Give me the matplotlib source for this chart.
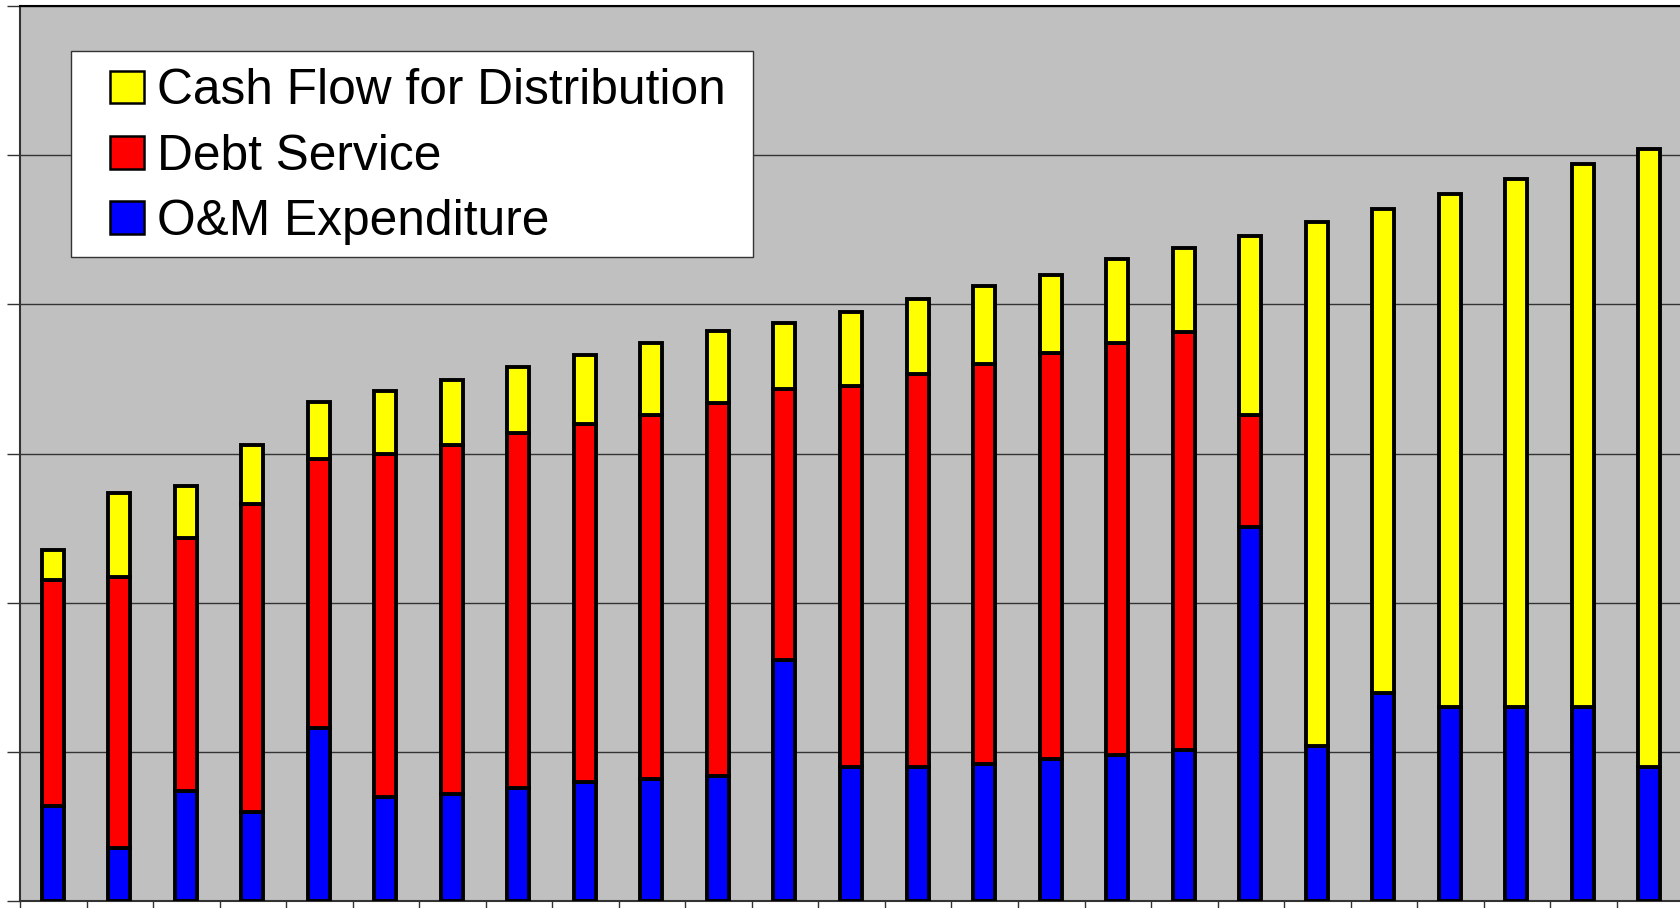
import matplotlib
matplotlib.use("Agg")
import matplotlib.pyplot as plt
from matplotlib.patches import Patch, Rectangle
import numpy as np

plt.rcParams["font.family"] = ["Liberation Sans", "DejaVu Sans"]

# Annual breakdown of project revenue (stacked): O&M, debt service, cash for distribution
years = list(range(1, 26))
om_expenditure = [12.7, 7.1, 14.7, 11.9, 23.2, 14.0, 14.3, 15.2, 16.0, 16.4, 16.7, 32.3, 17.9,
                  17.9, 18.4, 19.1, 19.6, 20.3, 50.2, 20.8, 27.9, 26.0, 26.0, 26.0, 17.9]
debt_service = [30.4, 36.4, 34.0, 41.3, 36.0, 46.0, 46.8, 47.6, 48.0, 48.8, 50.1, 36.4, 51.2,
                52.8, 53.6, 54.4, 55.2, 56.0, 14.9, 0.0, 0.0, 0.0, 0.0, 0.0, 0.0]
cash_flow = [4.0, 11.2, 6.9, 8.0, 7.7, 8.4, 8.8, 8.8, 9.2, 9.6, 9.6, 8.8, 9.9,
             10.0, 10.4, 10.4, 11.3, 11.2, 24.0, 70.3, 64.9, 68.8, 70.8, 72.8, 82.9]
series_labels = ["Cash Flow for Distribution", "Debt Service", "O&M Expenditure"]
series_colors = ["#FFFF00", "#FF0000", "#0000FF"]

W, H = 1681, 908
fig = plt.figure(figsize=(W / 100, H / 100), dpi=100)
fig.patch.set_facecolor("white")

# plot area in pixels: left 20, top 6, bottom 901, right 1684
AX_L, AX_T, AX_B, AX_R = 20, 6, 901, 1684
ax = fig.add_axes([AX_L / W, (H - AX_B) / H, (AX_R - AX_L) / W, (AX_B - AX_T) / H])
ax.set_facecolor("#C0C0C0")


def ax_x(px):
    return (px - AX_L) / (AX_R - AX_L)


def ax_y(py):
    return (AX_B - py) / (AX_B - AX_T)


x = np.arange(len(years))
om = np.array(om_expenditure)
debt = np.array(debt_service)
cash = np.array(cash_flow)

bar_w = 0.33
edge_kw = dict(edgecolor="black", linewidth=2.8, zorder=3)
ax.bar(x, om, bar_w, color=series_colors[2], **edge_kw)
ax.bar(x, debt, bar_w, bottom=om, color=series_colors[1], **edge_kw)
ax.bar(x, cash, bar_w, bottom=om + debt, color=series_colors[0], **edge_kw)

ax.set_xlim(-0.48, len(years) - 0.48)
ax.set_ylim(0, 120)
ax.set_yticks(np.arange(0, 121, 20))
ax.set_xticks([])
ax.set_xticks(np.arange(-0.5, len(years), 1.0) + 0.01, minor=True)
ax.tick_params(axis="y", which="major", length=9.5, width=1.0, color="#333333",
               direction="out", labelleft=False)
ax.tick_params(axis="x", which="minor", length=10, width=1.0, color="#333333",
               direction="out", labelbottom=False)
ax.set_axisbelow(True)
ax.grid(axis="y", color="#333333", linewidth=1.0)

ax.spines["right"].set_visible(False)
ax.spines["top"].set_color("black")
ax.spines["top"].set_linewidth(1.5)
for side in ("left", "bottom"):
    ax.spines[side].set_color("#333333")
    ax.spines[side].set_linewidth(1.5)

# Legend box with white fill and thin dark border
frame = Rectangle((ax_x(70.8), ax_y(256.5)), (752.6 - 70.8) / (AX_R - AX_L),
                  (256.5 - 51.0) / (AX_B - AX_T), transform=ax.transAxes,
                  facecolor="white", edgecolor="#333333", linewidth=1.0, zorder=4)
ax.add_patch(frame)

handles = [Patch(facecolor=c, edgecolor="black", linewidth=1.8) for c in series_colors]
leg = ax.legend(handles, series_labels, loc="upper left",
                bbox_to_anchor=(ax_x(110.4), ax_y(68.5)), frameon=False,
                fontsize=35.7, handlelength=0.68, handleheight=0.64, handletextpad=0.26,
                labelspacing=0.385, borderpad=0, borderaxespad=0)
leg.set_zorder(5)

fig.savefig("out.png", dpi=100)
